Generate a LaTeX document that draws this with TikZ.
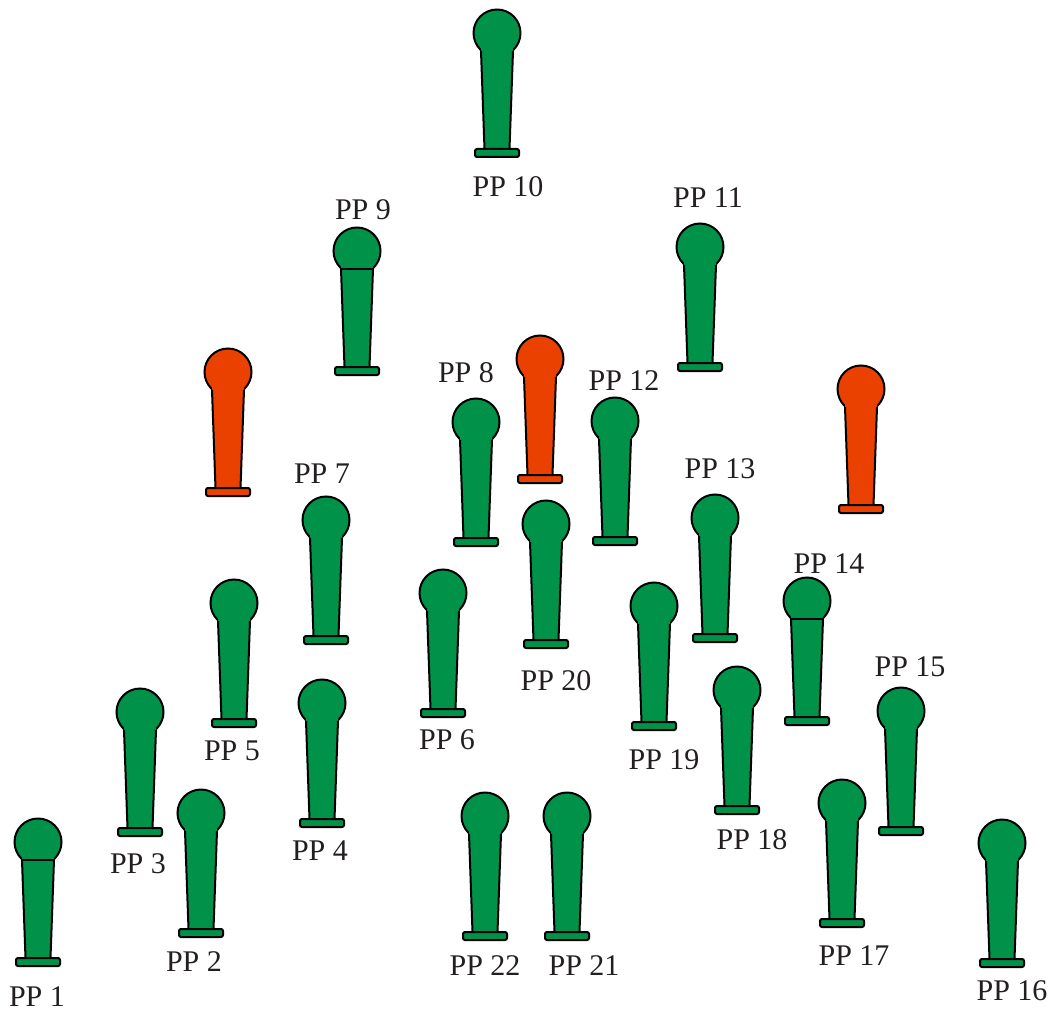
\documentclass[tikz,border=0pt]{standalone}
\usepackage{fontspec}
\setmainfont{Liberation Serif}
\definecolor{ppgreen}{RGB}{0,146,72}
\definecolor{ppred}{RGB}{234,65,0}
\definecolor{pptext}{RGB}{35,31,32}
\tikzset{
  post/.pic={
    \draw[fill=#1] (0,0) circle (23.5);
    \fill[#1] (-16,12) -- (16,12) -- (16,18) -- (12.5,116) -- (-12.5,116) -- (-16,18) -- cycle;
    \draw (-16,18) -- (-12.5,116) (16,18) -- (12.5,116);
    \draw[fill=#1, rounded corners=2] (-22,116) rectangle (22,124);
  },
  lidpost/.pic={
    \pic {post=#1};
    \draw (-16,18) -- (16,18);
  },
  lbl/.style={font=\fontsize{30}{36}\selectfont, text=pptext, inner sep=0pt}
}

\begin{document}
\begin{tikzpicture}[x=1pt, y=-1pt, line width=2pt]
  \useasboundingbox (0,0) rectangle (1055,1011);
  % top rows
  \pic at (497,33) {post=ppgreen};
  \node[lbl] (pp10) at (508,187) {PP 10};
  \pic at (357,251) {lidpost=ppgreen};
  \node[lbl] (pp9) at (363,210) {PP 9};
  \pic at (700,247) {post=ppgreen};
  \node[lbl] (pp11) at (708,198) {PP 11};
  % red posts
  \pic at (228,372) {post=ppred};
  \pic at (540,359) {post=ppred};
  \pic at (861,389) {post=ppred};
  % middle
  \pic at (476,422) {post=ppgreen};
  \node[lbl] (pp8) at (466,373) {PP 8};
  \pic at (615,421) {post=ppgreen};
  \node[lbl] (pp12) at (624,381) {PP 12};
  \pic at (326,520) {post=ppgreen};
  \node[lbl] (pp7) at (322,474) {PP 7};
  \pic at (715,518) {post=ppgreen};
  \node[lbl] (pp13) at (720,469) {PP 13};
  \pic at (546,524) {post=ppgreen};
  \node[lbl] (pp20) at (556,681) {PP 20};
  \pic at (234,603) {post=ppgreen};
  \node[lbl] (pp5) at (232,751) {PP 5};
  \pic at (443,593) {post=ppgreen};
  \node[lbl] (pp6) at (447,740) {PP 6};
  \pic at (654,606) {post=ppgreen};
  \node[lbl] (pp19) at (664,760) {PP 19};
  \pic at (807,601) {lidpost=ppgreen};
  \node[lbl] (pp14) at (829,564) {PP 14};
  % lower rows
  \pic at (322,703) {post=ppgreen};
  \node[lbl] (pp4) at (320,851) {PP 4};
  \pic at (140,712) {post=ppgreen};
  \node[lbl] (pp3) at (138,864) {PP 3};
  \pic at (737,690) {post=ppgreen};
  \node[lbl] (pp18) at (752,840) {PP 18};
  \pic at (901,711) {post=ppgreen};
  \node[lbl] (pp15) at (910,667) {PP 15};
  \pic at (201,813) {post=ppgreen};
  \node[lbl] (pp2) at (194,962) {PP 2};
  \pic at (38,842) {lidpost=ppgreen};
  \node[lbl] (pp1) at (37,997) {PP 1};
  \pic at (485,816) {post=ppgreen};
  \node[lbl] (pp22) at (485,966) {PP 22};
  \pic at (567,816) {post=ppgreen};
  \node[lbl] (pp21) at (584,966) {PP 21};
  \pic at (842,803) {post=ppgreen};
  \node[lbl] (pp17) at (854,956) {PP 17};
  \pic at (1002,843) {post=ppgreen};
  \node[lbl] (pp16) at (1012,991) {PP 16};
\end{tikzpicture}
\end{document}
